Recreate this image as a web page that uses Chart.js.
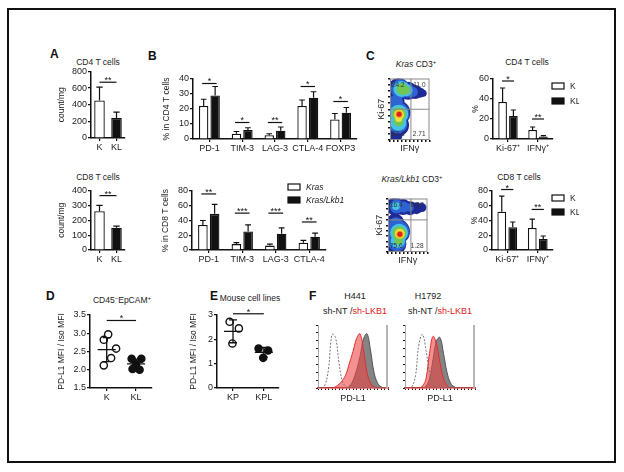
<!DOCTYPE html>
<html>
<head>
<meta charset="utf-8">
<script src="https://cdn.jsdelivr.net/npm/chart.js"></script>
<style>
body { margin: 0; background: #fff; width: 624px; height: 472px; position: relative; overflow: hidden; font-family: "Liberation Sans", Arial, sans-serif; color: #222; }
#frame { position: absolute; left: 7px; top: 8px; width: 605px; height: 451px; border: 2px solid #111; }
canvas { position: absolute; }
.L { position: absolute; font-size: 12px; font-weight: bold; line-height: 12px; color: #111; }
.t { position: absolute; font-size: 8.5px; line-height: 10px; white-space: nowrap; transform: translateX(-50%); color: #222; }
.h { font-size: 9px; }
.sup { font-size: 6px; vertical-align: 3px; }
.red { color: #e02020; }
</style>
</head>
<body>
<div id="frame"></div>

<div class="L" style="left:50px;top:48px">A</div>
<div class="L" style="left:148px;top:50px">B</div>
<div class="L" style="left:366px;top:50px">C</div>
<div class="L" style="left:46px;top:290px">D</div>
<div class="L" style="left:210px;top:290px">E</div>
<div class="L" style="left:309px;top:290px">F</div>

<div class="t" style="left:98px;top:57px">CD4 T cells</div>
<div class="t" style="left:98px;top:172px">CD8 T cells</div>
<div class="t" style="left:416px;top:57px"><i>Kras</i> CD3<span class="sup">+</span></div>
<div class="t" style="left:527px;top:57px">CD4 T cells</div>
<div class="t" style="left:412px;top:172px"><i>Kras/Lkb1</i> CD3<span class="sup">+</span></div>
<div class="t" style="left:519px;top:172px">CD8 T cells</div>
<div class="t" style="left:122px;top:293px">CD45<span class="sup">−</span>EpCAM<span class="sup">+</span></div>
<div class="t" style="left:250px;top:293px">Mouse cell lines</div>
<div class="t h" style="left:355px;top:291px">H441</div>
<div class="t h" style="left:355px;top:306px">sh-NT /<span class="red">sh-LKB1</span></div>
<div class="t h" style="left:428px;top:291px">H1792</div>
<div class="t h" style="left:440px;top:306px">sh-NT /<span class="red">sh-LKB1</span></div>

<script>
// ---- data ----
const aCats = ['K', 'KL'];
const aCd4 = [450, 240];
const aCd4Err = [160, 70];
const aCd8 = [260, 150];
const aCd8Err = [40, 10];

const bCd4Cats = ['PD-1', 'TIM-3', 'LAG-3', 'CTLA-4', 'FOXP3'];
const bCd4Kras = [22, 3.5, 2.5, 22, 13];
const bCd4KrasErr = [4.5, 1.5, 1, 4, 4];
const bCd4Lkb1 = [29, 6, 5.5, 27.5, 17.5];
const bCd4Lkb1Err = [6, 1.5, 2.5, 4, 3.5];
const bCd4Sig = ['*', '*', '**', '*', '*'];
const bCd4SigY = [37, 11, 11, 35, 25];

const bCd8Cats = ['PD-1', 'TIM-3', 'LAG-3', 'CTLA-4'];
const bCd8Kras = [34, 8, 6, 10];
const bCd8KrasErr = [6, 2, 2, 3];
const bCd8Lkb1 = [49, 25, 22, 18];
const bCd8Lkb1Err = [13, 9, 8, 5];
const bCd8Sig = ['**', '***', '***', '**'];
const bCd8SigY = [76, 50, 50, 38];

const cCats = ['Ki-67⁺', 'IFNγ⁺'];
const cCd4K = [37, 9];
const cCd4KErr = [14, 3];
const cCd4KL = [23, 2.5];
const cCd4KLErr = [6, 0.8];
const cCd4Sig = ['*', '**'];
const cCd4SigY = [58, 20];
const cCd8K = [52, 30];
const cCd8KErr = [21, 12];
const cCd8KL = [31, 15];
const cCd8KLErr = [7, 4];
const cCd8Sig = ['*', '**'];
const cCd8SigY = [82, 55];

const krasQuads = ['24.2', '11.0', '62.1', '2.71'];
const lkb1Quads = ['16.4', '6.67', '75.6', '1.28'];
const densityColors = ['#e02020', '#f39a22', '#f0e040', '#72c652', '#43c3e8', '#2e64d2', '#1e2a96'];
const krasDensity = [
  [{x: 23, y: 42, r: 2.5}],
  [{x: 23, y: 42, r: 3.5}],
  [{x: 23, y: 41, r: 5}, {x: 22, y: 35, r: 3.5}],
  [{x: 23, y: 42, r: 7}, {x: 22, y: 30, r: 5}, {x: 31, y: 83, r: 6}, {x: 40, y: 81, r: 4}],
  [{x: 22, y: 42, r: 9.5}, {x: 21, y: 28, r: 8}, {x: 29, y: 83, r: 8}, {x: 42, y: 81, r: 6}],
  [{x: 21, y: 43, r: 11}, {x: 20, y: 26, r: 9.5}, {x: 26, y: 83, r: 9.5}, {x: 45, y: 80, r: 7}, {x: 58, y: 78, r: 5}, {x: 15, y: 62, r: 7}],
  [{x: 20, y: 44, r: 12.5}, {x: 19, y: 24, r: 11.5}, {x: 14, y: 8, r: 7}, {x: 22, y: 83, r: 11}, {x: 46, y: 80, r: 9}, {x: 64, y: 78, r: 7}, {x: 76, y: 77, r: 5}, {x: 84, y: 76, r: 3.5}, {x: 14, y: 64, r: 9}]
];
const lkb1Density = [
  [{x: 30, y: 33, r: 2.5}],
  [{x: 30, y: 33, r: 3.5}],
  [{x: 30, y: 34, r: 5}],
  [{x: 29, y: 35, r: 7}, {x: 27, y: 22, r: 4.5}],
  [{x: 28, y: 36, r: 9}, {x: 25, y: 20, r: 7}, {x: 20, y: 86, r: 4}],
  [{x: 26, y: 38, r: 11}, {x: 23, y: 18, r: 9}, {x: 20, y: 52, r: 7}, {x: 22, y: 85, r: 7}, {x: 40, y: 84, r: 5.5}, {x: 55, y: 83, r: 4}],
  [{x: 24, y: 38, r: 12.5}, {x: 20, y: 15, r: 10.5}, {x: 18, y: 55, r: 9}, {x: 18, y: 85, r: 9}, {x: 38, y: 84, r: 8}, {x: 56, y: 82, r: 7}, {x: 72, y: 82, r: 6}, {x: 86, y: 83, r: 4.5}]
];

const dCats = ['K', 'KL'];
const dK = [{x: 0.05, y: 2.97}, {x: -0.1, y: 2.82}, {x: 0.32, y: 2.58}, {x: 0.15, y: 2.32}, {x: -0.1, y: 2.12}];
const dKL = [{x: 0.85, y: 2.3}, {x: 1.18, y: 2.3}, {x: 1.0, y: 2.15}, {x: 0.88, y: 2.02}, {x: 1.12, y: 2.0}];
const dMean = [2.55, 2.16];
const dSd = [0.33, 0.13];

const eCats = ['KP', 'KPL'];
const eKP = [{x: -0.11, y: 2.72}, {x: 0.19, y: 2.45}, {x: -0.02, y: 1.83}];
const eKPL = [{x: 0.83, y: 1.62}, {x: 1.14, y: 1.54}, {x: 0.98, y: 1.24}];
const eMean = [2.33, 1.47];
const eSd = [0.47, 0.2];

const histX = [0, 5, 10, 15, 20, 25, 30, 35, 40, 45, 50, 55, 60, 65, 70, 75, 80, 85, 90, 95, 100];
const h441Iso = [0, 0, 5, 30, 85, 80, 40, 10, 2, 0, 0, 0, 0, 0, 0, 0, 0, 0, 0, 0, 0];
const h441Lkb1 = [0, 0, 0, 0, 0, 2, 6, 12, 22, 40, 58, 78, 86, 60, 25, 8, 2, 0, 0, 0, 0];
const h441Nt = [0, 0, 0, 0, 0, 0, 0, 0, 0, 3, 12, 28, 50, 78, 86, 60, 25, 8, 2, 0, 0];
const h1792Iso = [0, 0, 2, 20, 70, 85, 60, 25, 8, 2, 0, 0, 0, 0, 0, 0, 0, 0, 0, 0, 0];
const h1792Lkb1 = [0, 0, 0, 0, 0, 3, 15, 55, 82, 70, 40, 15, 4, 0, 0, 0, 0, 0, 0, 0, 0];
const h1792Nt = [0, 0, 0, 0, 0, 0, 3, 15, 45, 75, 80, 55, 25, 8, 2, 0, 0, 0, 0, 0, 0];

// ---- setup ----
Chart.defaults.font.family = '"Liberation Sans", Arial, sans-serif';
Chart.defaults.font.size = 9;
Chart.defaults.color = '#222';
Chart.defaults.animation = false;
Chart.defaults.plugins.legend.display = false;
Chart.defaults.plugins.tooltip.enabled = false;

const INK = '#111';

Chart.register({
  id: 'errBars',
  afterDatasetsDraw(chart) {
    const ctx = chart.ctx, ys = chart.scales.y;
    chart.data.datasets.forEach(function (ds, i) {
      if (!ds.err) return;
      chart.getDatasetMeta(i).data.forEach(function (el, j) {
        const top = ys.getPixelForValue(ds.data[j] + ds.err[j]);
        const cw = el.width * 0.3;
        ctx.save();
        ctx.strokeStyle = INK;
        ctx.lineWidth = 1.2;
        ctx.beginPath();
        ctx.moveTo(el.x, el.y);
        ctx.lineTo(el.x, top);
        ctx.moveTo(el.x - cw, top);
        ctx.lineTo(el.x + cw, top);
        ctx.stroke();
        ctx.restore();
      });
    });
  }
});

Chart.register({
  id: 'sig',
  afterDraw(chart, args, opts) {
    if (!opts.items) return;
    const ctx = chart.ctx, xs = chart.scales.x, ys = chart.scales.y;
    opts.items.forEach(function (it) {
      const x1 = xs.getPixelForValue(it.a), x2 = xs.getPixelForValue(it.b), y = ys.getPixelForValue(it.y);
      ctx.save();
      ctx.strokeStyle = INK;
      ctx.lineWidth = 1.2;
      ctx.beginPath();
      ctx.moveTo(x1, y);
      ctx.lineTo(x2, y);
      ctx.stroke();
      ctx.fillStyle = INK;
      ctx.font = '9px "Liberation Sans"';
      ctx.textAlign = 'center';
      ctx.textBaseline = 'bottom';
      ctx.fillText(it.text, (x1 + x2) / 2, y + 3);
      ctx.restore();
    });
  }
});

Chart.register({
  id: 'boxLegend',
  afterDraw(chart, args, opts) {
    if (opts.x === undefined) return;
    const a = chart.chartArea, ctx = chart.ctx;
    chart.data.datasets.forEach(function (ds, i) {
      const x = a.left + opts.x, y = a.top + opts.y + i * opts.dy;
      ctx.save();
      ctx.fillStyle = ds.backgroundColor;
      ctx.fillRect(x, y, 12, 6);
      ctx.strokeStyle = INK;
      ctx.lineWidth = 1.2;
      ctx.strokeRect(x, y, 12, 6);
      ctx.fillStyle = '#222';
      ctx.font = (opts.italic ? 'italic ' : '') + '8.5px "Liberation Sans"';
      ctx.textAlign = 'left';
      ctx.textBaseline = 'middle';
      ctx.fillText(ds.label, x + 18, y + 3.5);
      ctx.restore();
    });
  }
});

Chart.register({
  id: 'meanSd',
  afterDatasetsDraw(chart, args, opts) {
    if (!opts.mean) return;
    const ctx = chart.ctx, xs = chart.scales.x, ys = chart.scales.y;
    opts.mean.forEach(function (m, i) {
      const x = xs.getPixelForValue(i), ym = ys.getPixelForValue(m);
      const y1 = ys.getPixelForValue(m + opts.sd[i]), y2 = ys.getPixelForValue(m - opts.sd[i]);
      ctx.save();
      ctx.strokeStyle = INK;
      ctx.lineWidth = 1.3;
      ctx.beginPath();
      ctx.moveTo(x - 9, ym); ctx.lineTo(x + 9, ym);
      ctx.moveTo(x, y1); ctx.lineTo(x, y2);
      ctx.moveTo(x - 4, y1); ctx.lineTo(x + 4, y1);
      ctx.moveTo(x - 4, y2); ctx.lineTo(x + 4, y2);
      ctx.stroke();
      ctx.restore();
    });
  }
});

Chart.register({
  id: 'frames',
  afterDatasetsDraw(chart, args, opts) {
    const a = chart.chartArea, ctx = chart.ctx;
    if (opts.quads) {
      const gx = chart.scales.x.getPixelForValue(opts.gx), gy = chart.scales.y.getPixelForValue(opts.gy);
      ctx.save();
      ctx.strokeStyle = '#8a8a8a';
      ctx.lineWidth = 1;
      ctx.strokeRect(a.left + 0.5, a.top + 0.5, a.width - 1, a.height - 1);
      ctx.beginPath();
      ctx.moveTo(gx, a.top); ctx.lineTo(gx, a.bottom);
      ctx.moveTo(a.left, gy); ctx.lineTo(a.right, gy);
      ctx.stroke();
      ctx.fillStyle = '#333';
      ctx.font = '6.5px "Liberation Sans"';
      ctx.textBaseline = 'top';
      ctx.textAlign = 'left';
      ctx.fillText(opts.quads[0], a.left + 2, a.top + 3);
      ctx.textAlign = 'right';
      ctx.fillText(opts.quads[1], a.right - 4, a.top + 3);
      ctx.textBaseline = 'bottom';
      ctx.textAlign = 'left';
      ctx.fillText(opts.quads[2], a.left + 2, a.bottom - 3);
      ctx.textAlign = 'right';
      ctx.fillText(opts.quads[3], a.right - 4, a.bottom - 3);
      ctx.restore();
    }
    if (opts.side) {
      ctx.save();
      ctx.fillStyle = '#b5b5b5';
      ctx.fillRect(a.right - 2, a.top, 2, a.height);
      ctx.restore();
    }
  }
});

// canvas so that the plot area lands on [x0,x1] x [y0,y1]
function place(box) {
  const c = document.createElement('canvas');
  const w = box.x1 - box.x0 + box.l + box.r;
  const h = box.y1 - box.y0 + box.t + box.b;
  c.width = w;
  c.height = h;
  c.style.left = (box.x0 - box.l) + 'px';
  c.style.top = (box.y0 - box.t) + 'px';
  c.style.width = w + 'px';
  c.style.height = h + 'px';
  document.body.appendChild(c);
  return c;
}

function yAxis(box, min, max, step, title, fmt) {
  return {
    min: min, max: max,
    ticks: { stepSize: step, padding: 1, callback: fmt || function (v) { return v; } },
    grid: { drawOnChartArea: false, tickLength: 3, color: INK, lineWidth: 1.2 },
    border: { color: INK, width: 1.5 },
    title: { display: !!title, text: title, padding: 0, font: { size: 8.5 } },
    afterFit: function (s) { s.width = box.l; }
  };
}

function xCat(box) {
  return {
    grid: { drawOnChartArea: false, offset: false, tickLength: 3, color: INK, lineWidth: 1.2 },
    border: { color: INK, width: 1.5 },
    ticks: { padding: 1, maxRotation: 0, autoSkip: false },
    afterFit: function (s) { s.height = box.b; }
  };
}

function sigItems(sig, sigY, half) {
  return sig.map(function (s, i) { return { a: i - half, b: i + half, y: sigY[i], text: s }; });
}

function barChart(box, cats, datasets, yMin, yMax, step, yTitle, sig, legend, pct) {
  return new Chart(place(box), {
    type: 'bar',
    data: { labels: cats, datasets: datasets },
    options: {
      responsive: false,
      layout: { padding: { top: box.t, right: box.r, left: 0, bottom: 0 } },
      datasets: { bar: { categoryPercentage: pct[0], barPercentage: pct[1], borderWidth: 1.3, borderColor: INK } },
      scales: { x: xCat(box), y: yAxis(box, yMin, yMax, step, yTitle) },
      plugins: { sig: { items: sig }, boxLegend: legend || {} }
    }
  });
}

function pair(labelA, a, aErr, labelB, b, bErr) {
  return [
    { label: labelA, data: a, err: aErr, backgroundColor: '#fff' },
    { label: labelB, data: b, err: bErr, backgroundColor: INK }
  ];
}

// ---- A ----
barChart({ x0: 91, x1: 125, y0: 71, y1: 138, l: 34, b: 16, t: 6, r: 4 }, aCats,
  [{ data: aCd4, err: aCd4Err, backgroundColor: ['#fff', INK] }],
  0, 800, 200, 'count/mg', [{ a: 0, b: 1, y: 670, text: '**' }], null, [1, 0.62]);
barChart({ x0: 91, x1: 125, y0: 190, y1: 250, l: 34, b: 16, t: 6, r: 4 }, aCats,
  [{ data: aCd8, err: aCd8Err, backgroundColor: ['#fff', INK] }],
  0, 400, 100, 'count/mg', [{ a: 0, b: 1, y: 365, text: '**' }], null, [1, 0.62]);

// ---- B ----
barChart({ x0: 193, x1: 357, y0: 79, y1: 139, l: 31, b: 16, t: 10, r: 4 }, bCd4Cats,
  pair('Kras', bCd4Kras, bCd4KrasErr, 'Kras/Lkb1', bCd4Lkb1, bCd4Lkb1Err),
  0, 40, 10, '% in CD4 T cells', sigItems(bCd4Sig, bCd4SigY, 0.22), null, [0.7, 0.82]);
barChart({ x0: 192, x1: 326, y0: 191, y1: 250, l: 31, b: 16, t: 14, r: 26 }, bCd8Cats,
  pair('Kras', bCd8Kras, bCd8KrasErr, 'Kras/Lkb1', bCd8Lkb1, bCd8Lkb1Err),
  0, 80, 20, '% in CD8 T cells', sigItems(bCd8Sig, bCd8SigY, 0.22),
  { x: 96, y: -7, dy: 13, italic: true }, [0.7, 0.82]);

// ---- C bars ----
barChart({ x0: 493, x1: 553, y0: 79, y1: 139, l: 22, b: 16, t: 12, r: 26 }, cCats,
  pair('K', cCd4K, cCd4KErr, 'KL', cCd4KL, cCd4KLErr),
  0, 60, 20, '%', sigItems(cCd4Sig, cCd4SigY, 0.2), { x: 59, y: 4, dy: 15 }, [0.72, 0.8]);
barChart({ x0: 492, x1: 553, y0: 191, y1: 250, l: 22, b: 16, t: 14, r: 26 }, cCats,
  pair('K', cCd8K, cCd8KErr, 'KL', cCd8KL, cCd8KLErr),
  0, 80, 20, '%', sigItems(cCd8Sig, cCd8SigY, 0.2), { x: 60, y: 4, dy: 14 }, [0.72, 0.8]);

// ---- C flow density ----
function flowChart(box, layers, quads, gx, gy) {
  return new Chart(place(box), {
    type: 'bubble',
    data: {
      datasets: layers.map(function (pts, i) {
        return { data: pts, backgroundColor: densityColors[i], borderWidth: 0, clip: 0 };
      })
    },
    options: {
      responsive: false,
      layout: { padding: { top: box.t, right: box.r, left: 0, bottom: 0 } },
      scales: {
        x: {
          min: 0, max: 100,
          ticks: { display: false, stepSize: 10 },
          grid: { drawOnChartArea: false, tickLength: 2, color: INK, lineWidth: 1.5 },
          border: { display: false },
          title: { display: true, text: 'IFNγ', padding: 0, font: { size: 9 } },
          afterFit: function (s) { s.height = box.b; }
        },
        y: {
          min: 0, max: 100,
          ticks: { display: false, stepSize: 10 },
          grid: { drawOnChartArea: false, tickLength: 2, color: INK, lineWidth: 1.5 },
          border: { display: false },
          title: { display: true, text: 'Ki-67', padding: 0, font: { size: 9 } },
          afterFit: function (s) { s.width = box.l; }
        }
      },
      plugins: { frames: { quads: quads, gx: gx, gy: gy } }
    }
  });
}
flowChart({ x0: 390, x1: 440, y0: 68, y1: 140, l: 14, b: 14, t: 2, r: 2 }, krasDensity, krasQuads, 53, 50);
flowChart({ x0: 388, x1: 438, y0: 188, y1: 252, l: 14, b: 14, t: 2, r: 2 }, lkb1Density, lkb1Quads, 58, 60);

// ---- D / E scatter ----
function dotChart(box, cats, open, filled, yMin, yMax, step, xMin, xMax, mean, sd, sig, fmt) {
  return new Chart(place(box), {
    type: 'scatter',
    data: {
      datasets: [
        { data: open, pointRadius: 3.6, pointBackgroundColor: '#fff', pointBorderColor: INK, pointBorderWidth: 1.4 },
        { data: filled, pointRadius: 3.6, pointBackgroundColor: INK, pointBorderColor: INK, pointBorderWidth: 1.4 }
      ]
    },
    options: {
      responsive: false,
      layout: { padding: { top: box.t, right: box.r, left: 0, bottom: 0 } },
      scales: {
        x: {
          min: xMin, max: xMax,
          afterBuildTicks: function (s) { s.ticks = [{ value: 0 }, { value: 1 }]; },
          ticks: { padding: 1, callback: function (v) { return cats[v]; } },
          grid: { drawOnChartArea: false, tickLength: 3, color: INK, lineWidth: 1.2 },
          border: { color: INK, width: 1.5 },
          afterFit: function (s) { s.height = box.b; }
        },
        y: yAxis(box, yMin, yMax, step, 'PD-L1 MFI / Iso MFI', fmt)
      },
      plugins: { meanSd: { mean: mean, sd: sd }, sig: { items: sig } }
    }
  });
}
dotChart({ x0: 90, x1: 153, y0: 315, y1: 388, l: 33, b: 16, t: 8, r: 4 }, dCats, dK, dKL,
  1.5, 3.5, 0.5, -0.57, 1.53, dMean, dSd, [{ a: 0, b: 1, y: 3.35, text: '*' }],
  function (v) { return v.toFixed(1); });
dotChart({ x0: 217, x1: 280, y0: 315, y1: 388, l: 28, b: 16, t: 10, r: 4 }, eCats, eKP, eKPL,
  0, 3, 1, -0.52, 1.48, eMean, eSd, [{ a: 0, b: 1, y: 3.05, text: '*' }]);

// ---- F histograms ----
function histChart(box, iso, lkb1, nt) {
  return new Chart(place(box), {
    type: 'line',
    data: {
      labels: histX,
      datasets: [
        { data: iso, borderColor: '#777', borderWidth: 1, borderDash: [2, 1.5], fill: false },
        { data: lkb1, borderColor: '#e03030', borderWidth: 1, backgroundColor: 'rgba(236,70,70,0.6)', fill: 'origin' },
        { data: nt, borderColor: '#555', borderWidth: 1, backgroundColor: 'rgba(110,110,110,0.85)', fill: 'origin' }
      ]
    },
    options: {
      responsive: false,
      layout: { padding: { top: box.t, right: box.r, left: 0, bottom: 0 } },
      elements: { point: { radius: 0 }, line: { tension: 0.4 } },
      scales: {
        x: {
          ticks: { display: false },
          grid: { drawOnChartArea: false, offset: false, tickLength: 2, color: INK, lineWidth: 1 },
          border: { color: '#e02020', width: 1.5 },
          title: { display: true, text: 'PD-L1', padding: 0, font: { size: 9 } },
          afterFit: function (s) { s.height = box.b; }
        },
        y: {
          min: 0, max: 100,
          ticks: { display: false, stepSize: 12.5 },
          grid: { drawOnChartArea: false, tickLength: 2, color: INK, lineWidth: 1 },
          border: { color: '#aaa', width: 1 },
          afterFit: function (s) { s.width = box.l; }
        }
      },
      plugins: { frames: { side: true } }
    }
  });
}
histChart({ x0: 318, x1: 388, y0: 325, y1: 388, l: 3, b: 16, t: 2, r: 3 }, h441Iso, h441Lkb1, h441Nt);
histChart({ x0: 405, x1: 475, y0: 325, y1: 388, l: 3, b: 16, t: 2, r: 3 }, h1792Iso, h1792Lkb1, h1792Nt);
</script>
</body>
</html>
